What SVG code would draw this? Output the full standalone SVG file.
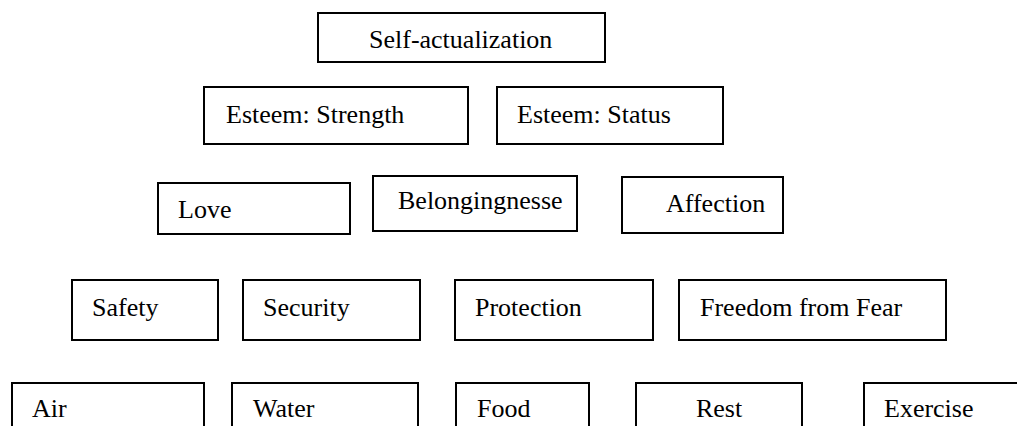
<svg xmlns="http://www.w3.org/2000/svg" width="1017" height="426" viewBox="0 0 1017 426">
<style>
.box{fill:#fff;stroke:#000;stroke-width:2}
.t{font-family:"Liberation Serif","Times New Roman",serif;font-size:26px;fill:#000}
</style>
<rect width="1017" height="426" fill="#fff"/>
<g id="self-actualization"><rect class="box" x="318" y="13" width="287" height="49"/><text class="t" x="369" y="48">Self-actualization</text></g>
<g id="esteem-strength"><rect class="box" x="204" y="87" width="264" height="57"/><text class="t" x="226" y="123">Esteem: Strength</text></g>
<g id="esteem-status"><rect class="box" x="497" y="87" width="226" height="57"/><text class="t" x="517" y="123">Esteem: Status</text></g>
<g id="love"><rect class="box" x="158" y="183" width="192" height="51"/><text class="t" x="178" y="218">Love</text></g>
<g id="belongingnesse"><rect class="box" x="373" y="176" width="204" height="55"/><text class="t" x="398" y="209">Belongingnesse</text></g>
<g id="affection"><rect class="box" x="622" y="177" width="161" height="56"/><text class="t" x="666" y="212">Affection</text></g>
<g id="safety"><rect class="box" x="72" y="280" width="146" height="60"/><text class="t" x="92" y="316">Safety</text></g>
<g id="security"><rect class="box" x="243" y="280" width="177" height="60"/><text class="t" x="263" y="316">Security</text></g>
<g id="protection"><rect class="box" x="455" y="280" width="198" height="60"/><text class="t" x="475" y="316">Protection</text></g>
<g id="freedom-from-fear"><rect class="box" x="679" y="280" width="267" height="60"/><text class="t" x="700" y="316">Freedom from Fear</text></g>
<g id="air"><rect class="box" x="12" y="383" width="192" height="60"/><text class="t" x="32" y="417">Air</text></g>
<g id="water"><rect class="box" x="232" y="383" width="186" height="60"/><text class="t" x="253" y="417">Water</text></g>
<g id="food"><rect class="box" x="456" y="383" width="133" height="60"/><text class="t" x="477" y="417">Food</text></g>
<g id="rest"><rect class="box" x="636" y="383" width="166" height="60"/><text class="t" x="719" y="417" text-anchor="middle">Rest</text></g>
<g id="exercise"><rect class="box" x="864" y="383" width="170" height="60"/><text class="t" x="884" y="417">Exercise</text></g>
<g id="connectors"/>
</svg>
